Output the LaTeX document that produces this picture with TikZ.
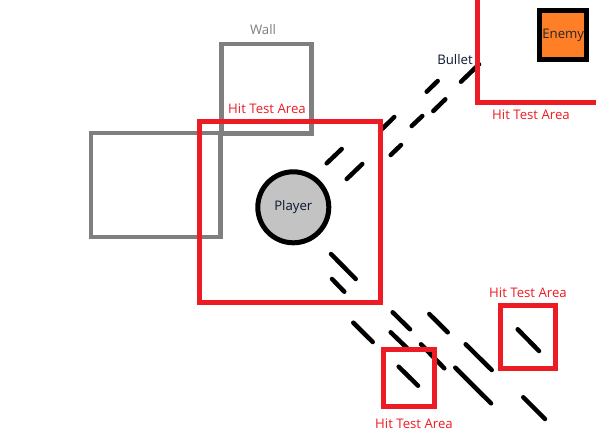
\documentclass[tikz,border=0pt]{standalone}
\usepackage{fontspec}
\setmainfont{Open Sans}
\definecolor{hitred}{RGB}{237,28,36}
\definecolor{wallgray}{RGB}{127,127,127}
\definecolor{playerfill}{RGB}{195,195,195}
\definecolor{enemyorange}{RGB}{255,127,39}
\definecolor{navy}{RGB}{10,25,45}
\begin{document}
\begin{tikzpicture}[x=1pt,y=-1pt,
  wallbox/.style={draw=wallgray,line width=4.3pt},
  hitbox/.style={draw=hitred,line width=5pt},
  streak/.style={draw=black,line width=4.5pt,line cap=round},
  lbl/.style={font=\fontsize{13.2}{15}\selectfont,inner sep=0pt},
  hitlbl/.style={lbl,text=hitred},
]
\useasboundingbox (0,0) rectangle (596,447);
\fill[white] (0,0) rectangle (596,447);
\begin{scope}
\clip (0,0) rectangle (596,447);
% walls
\draw[wallbox] (221.5,44) rectangle (311.5,133.5);
\draw[wallbox] (91,133) rectangle (220.5,237);
\node[lbl,text=wallgray] (walllbl) at (263,30) {Wall};
% bullet streaks (upper)
\draw[streak] (326.7,163.3) -- (341.7,149);
\draw[streak] (346.7,179) -- (362.3,164);
\draw[streak] (380,131) -- (394.3,117);
\draw[streak] (390.7,155) -- (401,145);
\draw[streak] (411.7,126) -- (422.3,116);
\draw[streak] (426.7,91.7) -- (437.7,81);
\draw[streak] (433.3,111) -- (445.3,99.3);
\draw[streak] (461,81.7) -- (479,64.3);
% bullet streaks (lower)
\draw[streak] (331,254) -- (355.7,279);
\draw[streak] (332,279) -- (344.3,291.7);
\draw[streak] (353.3,322.7) -- (372.7,342);
\draw[streak] (392.7,312.3) -- (410,329.3);
\draw[streak] (429.3,314) -- (447.7,332.3);
\draw[streak] (390.7,332.3) -- (407,348);
\draw[streak] (421,344.3) -- (444.3,368.3);
\draw[streak] (465.7,344.3) -- (491.7,370);
\draw[streak] (455.3,367.7) -- (491,403.3);
\draw[streak] (523.3,397.3) -- (545,419);
\draw[streak] (398.7,366.7) -- (418,385.7);
\draw[streak] (517.7,329.3) -- (539,351);
% hit test areas
\draw[hitbox] (199.5,121.5) rectangle (380,302.5);
\node[hitlbl] (hitmain) at (267,109) {Hit Test Area};
\draw[hitbox] (477,-10) -- (477,102) -- (610,102);
\node[hitlbl] (hittr) at (531,114.5) {Hit Test Area};
\draw[hitbox] (500,305) rectangle (555,368);
\node[hitlbl] (hitright) at (528,293) {Hit Test Area};
\draw[hitbox] (383.5,349.5) rectangle (434,406.5);
\node[hitlbl] (hitbottom) at (414,424) {Hit Test Area};
% player
\node[circle,draw=black,line width=5pt,fill=playerfill,minimum size=71pt,inner sep=0pt,
  font=\fontsize{13.2}{15}\selectfont,text=navy] (player) at (293.3,207.3) {Player};
% enemy
\node[draw=black,line width=5pt,fill=enemyorange,minimum width=47.5pt,minimum height=48.5pt,
  inner sep=0pt,font=\fontsize{13.2}{15}\selectfont,text=black!85] (enemy) at (563.2,35.2) {Enemy};
\node[lbl,text=navy] (bulletlbl) at (455,60) {Bullet};
\end{scope}
\end{tikzpicture}
\end{document}
